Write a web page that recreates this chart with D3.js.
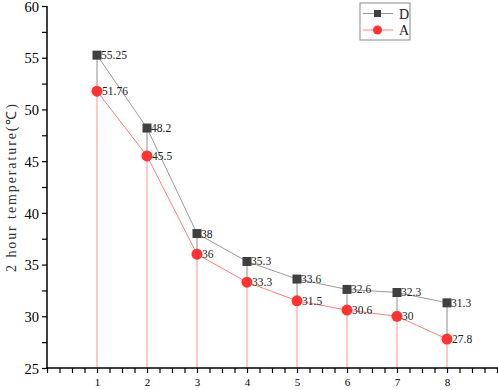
<!DOCTYPE html>
<html>
<head>
<meta charset="utf-8">
<script src="https://cdn.jsdelivr.net/npm/d3@7"></script>
<style>
  body { margin: 0; background: #fff; }
  text { font-family: "Liberation Serif", "Times New Roman", serif; }
</style>
</head>
<body>
<script>
// datos del gráfico
const categorias = [1, 2, 3, 4, 5, 6, 7, 8];
const serieD = [55.25, 48.2, 38, 35.3, 33.6, 32.6, 32.3, 31.3];
const serieA = [51.76, 45.5, 36, 33.3, 31.5, 30.6, 30, 27.8];
const etiquetasD = ["55.25", "48.2", "38", "35.3", "33.6", "32.6", "32.3", "31.3"];
const etiquetasA = ["51.76", "45.5", "36", "33.3", "31.5", "30.6", "30", "27.8"];
const ticksY = [25, 30, 35, 40, 45, 50, 55, 60];

const WIDTH = 498;
const HEIGHT = 390;
const MARGIN = { top: 6, bottom: 22, right: 1, left: 47 };

const svg = d3.select("body")
  .append("svg")
  .attr("width", WIDTH)
  .attr("height", HEIGHT);

const escalaX = d3.scaleLinear()
  .domain([0, 9])
  .range([MARGIN.left, WIDTH - MARGIN.right]);

const escalaY = d3.scaleLinear()
  .domain([25, 60])
  .range([HEIGHT - MARGIN.bottom, MARGIN.top]);

const datos = categorias.map((c, i) => ({
  x: c, d: serieD[i], a: serieA[i], ld: etiquetasD[i], la: etiquetasA[i]
}));

// líneas verticales (drop lines)
svg.append("g")
  .selectAll("line")
  .data(datos)
  .join("line")
  .attr("x1", d => escalaX(d.x))
  .attr("x2", d => escalaX(d.x))
  .attr("y1", d => escalaY(d.d))
  .attr("y2", d => escalaY(d.a))
  .attr("stroke", "#b4b4b4")
  .attr("stroke-width", 1.5);

svg.append("g")
  .selectAll("line")
  .data(datos)
  .join("line")
  .attr("x1", d => escalaX(d.x))
  .attr("x2", d => escalaX(d.x))
  .attr("y1", d => escalaY(d.a))
  .attr("y2", escalaY(25))
  .attr("stroke", "#ffb4b4")
  .attr("stroke-width", 1.5);

// ejes
const ejeX = d3.axisBottom(escalaX)
  .tickValues(d3.range(0, 9.01, 0.25))
  .tickSize(5)
  .tickFormat(d => categorias.includes(d) ? d : "");

const gX = svg.append("g")
  .attr("transform", `translate(0, ${escalaY(25)})`)
  .call(ejeX);
gX.select(".domain").attr("stroke-width", 1.5).attr("d", `M${escalaX(0) - 1},0H${WIDTH}`);
gX.selectAll(".tick line").attr("stroke-width", 1.2);
gX.selectAll(".tick text")
  .attr("y", 10)
  .style("font-size", "11px")
  .style("font-family", "Liberation Serif");

const ejeY = d3.axisLeft(escalaY)
  .tickValues(d3.range(25, 60.01, 2.5))
  .tickSize(5)
  .tickFormat(d => ticksY.includes(d) ? d : "");

const gY = svg.append("g")
  .attr("transform", `translate(${escalaX(0)}, 0)`)
  .call(ejeY);
gY.select(".domain").attr("stroke-width", 1.5).attr("d", `M0,${escalaY(60)}V${escalaY(25)}`);
gY.selectAll(".tick line").attr("stroke-width", 1.2);
gY.selectAll(".tick text")
  .attr("x", -8)
  .attr("dy", "0.36em")
  .style("font-size", "14.5px")
  .style("font-family", "Liberation Serif");

// título eje Y
svg.append("text")
  .attr("transform", `translate(16, ${(escalaY(25) + escalaY(60)) / 2}) rotate(-90)`)
  .attr("text-anchor", "middle")
  .attr("font-size", 14)
  .attr("letter-spacing", 1.9)
  .attr("fill", "#333")
  .text("2 hour temperature(℃)");

// líneas de series
const linea = campo => d3.line()
  .x(d => escalaX(d.x))
  .y(d => escalaY(d[campo]));

svg.append("path")
  .datum(datos)
  .attr("d", linea("d"))
  .attr("fill", "none")
  .attr("stroke", "#9a9a9a")
  .attr("stroke-width", 1);

svg.append("path")
  .datum(datos)
  .attr("d", linea("a"))
  .attr("fill", "none")
  .attr("stroke", "#ff8080")
  .attr("stroke-width", 1);

// marcadores
svg.append("g")
  .selectAll("rect")
  .data(datos)
  .join("rect")
  .attr("x", d => escalaX(d.x) - 4.5)
  .attr("y", d => escalaY(d.d) - 4.5)
  .attr("width", 9)
  .attr("height", 9)
  .attr("fill", "#404040");

svg.append("g")
  .selectAll("circle")
  .data(datos)
  .join("circle")
  .attr("cx", d => escalaX(d.x))
  .attr("cy", d => escalaY(d.a))
  .attr("r", 5.5)
  .attr("fill", "#ff3333");

// etiquetas de valores
svg.append("g")
  .selectAll("text")
  .data(datos)
  .join("text")
  .attr("x", d => escalaX(d.x) + 4)
  .attr("y", d => escalaY(d.d) + 4)
  .attr("font-size", 11.5)
  .attr("fill", "#222")
  .text(d => d.ld);

svg.append("g")
  .selectAll("text")
  .data(datos)
  .join("text")
  .attr("x", d => escalaX(d.x) + 5)
  .attr("y", d => escalaY(d.a) + 4)
  .attr("font-size", 11.5)
  .attr("fill", "#222")
  .text(d => d.la);

// leyenda
const leyenda = svg.append("g").attr("transform", "translate(360, 3)");
leyenda.append("rect")
  .attr("width", 50).attr("height", 37)
  .attr("fill", "#fff").attr("stroke", "#8a8a8a").attr("stroke-width", 1);

const itemsLeyenda = [
  { nombre: "D", color: "#9a9a9a", y: 10.5 },
  { nombre: "A", color: "#ff8080", y: 27 }
];
itemsLeyenda.forEach((it, i) => {
  leyenda.append("line")
    .attr("x1", 3).attr("x2", 33)
    .attr("y1", it.y).attr("y2", it.y)
    .attr("stroke", it.color);
  if (i === 0) {
    leyenda.append("rect")
      .attr("x", 14).attr("y", it.y - 3.5)
      .attr("width", 7).attr("height", 7)
      .attr("fill", "#404040");
  } else {
    leyenda.append("circle")
      .attr("cx", 17.5).attr("cy", it.y)
      .attr("r", 4.5).attr("fill", "#ff3333");
  }
  leyenda.append("text")
    .attr("x", 39).attr("y", it.y + 5)
    .attr("font-size", 14)
    .attr("font-family", "Liberation Serif")
    .attr("fill", "#222")
    .text(it.nombre);
});
</script>
</body>
</html>
